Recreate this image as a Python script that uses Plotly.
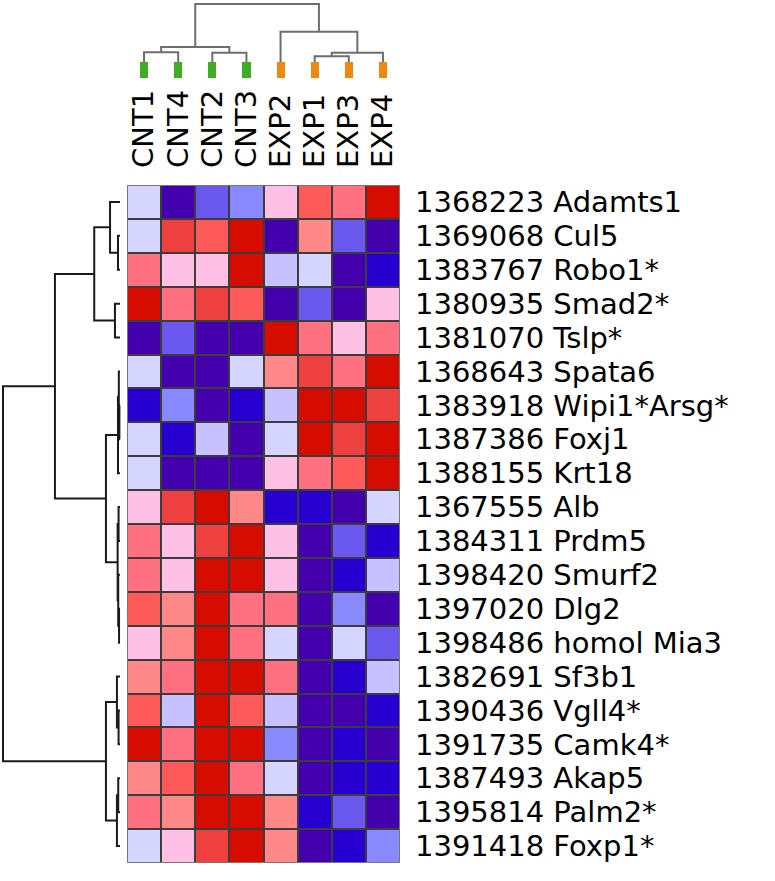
import plotly.graph_objects as go

# ---------------- data ----------------
col_labels = ["CNT1", "CNT4", "CNT2", "CNT3", "EXP2", "EXP1", "EXP3", "EXP4"]
col_groups = [0, 0, 0, 0, 1, 1, 1, 1]  # 0 = CNT, 1 = EXP

row_labels = [
    "1368223 Adamts1", "1369068 Cul5", "1383767 Robo1*", "1380935 Smad2*",
    "1381070 Tslp*", "1368643 Spata6", "1383918 Wipi1*Arsg*", "1387386 Foxj1",
    "1388155 Krt18", "1367555 Alb", "1384311 Prdm5", "1398420 Smurf2",
    "1397020 Dlg2", "1398486 homol Mia3", "1382691 Sf3b1", "1390436 Vgll4*",
    "1391735 Camk4*", "1387493 Akap5", "1395814 Palm2*", "1391418 Foxp1*",
]

# expression level (0 = lowest ... 11 = highest), columns as col_labels
levels = [
    [5, 0, 2, 3, 6, 9, 8, 11],
    [5, 10, 9, 11, 0, 7, 2, 0],
    [8, 6, 6, 11, 4, 5, 0, 1],
    [11, 8, 10, 9, 0, 2, 0, 6],
    [0, 2, 0, 0, 11, 8, 6, 8],
    [5, 0, 0, 5, 7, 10, 8, 11],
    [1, 3, 0, 1, 4, 11, 11, 10],
    [5, 1, 4, 0, 5, 11, 10, 11],
    [5, 0, 0, 0, 6, 8, 9, 11],
    [6, 10, 11, 7, 1, 1, 0, 5],
    [8, 6, 10, 11, 6, 0, 2, 1],
    [8, 6, 11, 11, 6, 0, 1, 4],
    [9, 7, 11, 8, 8, 0, 3, 0],
    [6, 7, 11, 8, 5, 0, 5, 2],
    [7, 8, 11, 11, 8, 0, 1, 4],
    [9, 4, 11, 9, 4, 0, 0, 1],
    [11, 8, 11, 11, 3, 0, 1, 0],
    [7, 9, 11, 8, 5, 0, 1, 1],
    [8, 7, 11, 11, 7, 1, 2, 0],
    [5, 6, 10, 11, 7, 0, 1, 3],
]

palette = ["#4500AD", "#2700D1", "#6B58EF", "#8888FF", "#C7C1FF", "#D5D5FF",
           "#FFC0E5", "#FF8989", "#FF7080", "#FF5A5A", "#EF4040", "#D60C00"]
group_colors = ["#3fae22", "#f0880f"]

# dendrograms: node = (height, left, right); leaf = index
row_tree = (1.0,
            (0.556,
             (0.22, (0.085, 0, (0.017, 1, 2)), (0.043, 3, 4)),
             (0.12,
              (0.017, (0.010, 5, (0.005, 6, 7)), 8),
              (0.02, (0.012, 9, 10), (0.015, 11, (0.008, 12, 13))))),
            (0.12, (0.026, 14, (0.012, 15, 16)), (0.026, (0.015, 17, 18), 19)))

col_tree = (1.0,
            (0.26, (0.17, 0, 1), (0.16, 2, 3)),
            (0.52, 4, (0.16, (0.10, 5, 6), 7)))


def dendro_segments(node, pos_list, h_list):
    """returns (position, height) of node, appending U-links."""
    if isinstance(node, int):
        return float(node), 0.0
    h, left, right = node
    pl, hl = dendro_segments(left, pos_list, h_list)
    pr, hr = dendro_segments(right, pos_list, h_list)
    pos_list += [pl, pl, pr, pr, None]
    h_list += [hl, h, h, hr, None]
    return (pl + pr) / 2.0, h


W, H = 775, 881
hm_x0, hm_x1 = 127 / W, 400 / W
hm_y0, hm_y1 = 1 - 863 / H, 1 - 185 / H

fig = go.Figure()

# background (cell borders)
fig.add_shape(type="rect", xref="x", yref="y", x0=-0.5, x1=7.5, y0=-0.5, y1=19.5,
              fillcolor="#3c3c3c", line=dict(color="#8a8a8a", width=1.5), layer="below")

n = len(palette)
cs = []
for i, c in enumerate(palette):
    cs.append([i / n, c])
    cs.append([(i + 1) / n, c])

fig.add_trace(go.Heatmap(
    z=levels, x=list(range(len(col_labels))), y=list(range(len(row_labels))),
    colorscale=cs, zmin=-0.5, zmax=n - 0.5, showscale=False,
    xgap=2, ygap=2, hoverinfo="skip", xaxis="x", yaxis="y"))

# group marker bar
fig.add_trace(go.Heatmap(
    z=[col_groups], x=list(range(len(col_labels))), y=[0],
    colorscale=[[0, group_colors[0]], [0.5, group_colors[0]], [0.5, group_colors[1]], [1, group_colors[1]]],
    zmin=0, zmax=1, showscale=False, xgap=26, ygap=0, hoverinfo="skip",
    xaxis="x", yaxis="y3"))

# column dendrogram
cp, ch = [], []
dendro_segments(col_tree, cp, ch)
fig.add_trace(go.Scatter(x=cp, y=ch, mode="lines", line=dict(color="#6e6e6e", width=2),
                         hoverinfo="skip", xaxis="x", yaxis="y2", showlegend=False))

# row dendrogram
rp, rh = [], []
dendro_segments(row_tree, rp, rh)
fig.add_trace(go.Scatter(x=rh, y=rp, mode="lines", line=dict(color="#1a1a1a", width=2),
                         hoverinfo="skip", xaxis="x2", yaxis="y", showlegend=False))

font = "DejaVu Sans"
fig.update_layout(
    width=W, height=H, margin=dict(l=0, r=0, t=0, b=0),
    paper_bgcolor="white", plot_bgcolor="white", showlegend=False,
    xaxis=dict(domain=[hm_x0, hm_x1], range=[-0.5, 7.5], side="top", anchor="y",
               tickmode="array", tickvals=list(range(len(col_labels))), ticktext=col_labels,
               tickangle=-90, tickfont=dict(family=font, size=29, color="black"),
               ticklabelstandoff=16, showgrid=False, zeroline=False, showline=False, ticks=""),
    yaxis=dict(domain=[hm_y0, hm_y1], range=[19.5, -0.5], side="right", anchor="x",
               tickmode="array", tickvals=list(range(len(row_labels))), ticktext=row_labels,
               tickfont=dict(family=font, size=29, color="black"),
               ticklabelstandoff=14, showgrid=False, zeroline=False, showline=False, ticks=""),
    xaxis2=dict(domain=[0, hm_x0], range=[1.0256, -0.06], anchor="y", visible=False),
    yaxis2=dict(domain=[1 - 62 / H, 1], range=[0, 1.069], anchor="x", visible=False),
    yaxis3=dict(domain=[1 - 78 / H, 1 - 62 / H], range=[-0.5, 0.5], anchor="x", visible=False),
)

fig.write_html("out.html", config={"displayModeBar": False},
               post_script="document.body.style.margin='0px';")
